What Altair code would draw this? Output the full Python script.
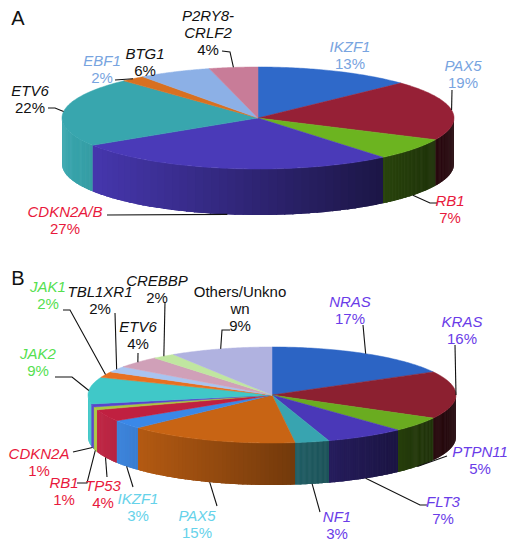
import altair as alt
import pandas as pd

# ---------------- data ----------------
a_names = ["IKZF1", "PAX5", "RB1", "CDKN2A/B", "ETV6", "EBF1", "BTG1", "P2RY8-CRLF2"]
a_line1 = ["", "", "", "", "", "", "", "P2RY8-"]
a_line2 = ["IKZF1", "PAX5", "RB1", "CDKN2A/B", "ETV6", "EBF1", "BTG1", "CRLF2"]
a_values = [13, 19, 7, 27, 22, 2, 6, 4]

b_names = ["NRAS", "KRAS", "PTPN11", "FLT3", "NF1", "PAX5", "IKZF1", "TP53", "RB1",
           "CDKN2A", "JAK2", "JAK1", "TBL1XR1", "ETV6", "CREBBP", "Others/Unknown"]
b_line1 = [""] * 15 + ["Others/Unkno"]
b_line2 = ["NRAS", "KRAS", "PTPN11", "FLT3", "NF1", "PAX5", "IKZF1", "TP53", "RB1",
           "CDKN2A", "JAK2", "JAK1", "TBL1XR1", "ETV6", "CREBBP", "wn"]
b_values = [17, 16, 5, 7, 3, 15, 3, 4, 1, 1, 9, 2, 2, 4, 2, 9]

# ---------------- styles ----------------
a_colors = ["#2f69c9", "#962036", "#6cb420", "#4a3ab8", "#38a6ae", "#d87020", "#8cb0e6", "#c87c98"]
b_colors = ["#2c64c4", "#8c2030", "#6aac20", "#4a38b8", "#38a4b0", "#c86414", "#3a88e8", "#c02040",
            "#a8c840", "#5a44cc", "#40c8c8", "#e87020", "#a8c4f0", "#d0a0b8", "#c0e6a0", "#b0b2e0"]
LB, RED, PUR, CYA, GRN, BLK = "#78a4e0", "#e8193c", "#6a3ce8", "#66d2ea", "#55e050", "#111111"
a_label_colors = [LB, LB, RED, RED, BLK, LB, BLK, BLK]
b_label_colors = [PUR, PUR, PUR, PUR, PUR, CYA, CYA, RED, RED, RED, GRN, GRN, BLK, BLK, BLK, BLK]
b_italic = [True] * 15 + [False]

# label layout: (text x, percent-line y, leader points after the slice anchor)
a_layout = [(350, 63, []), (463, 82, [(452, 90)]), (450, 217, [(430, 203), (437, 203)]),
            (65, 228, [(107, 215)]), (30, 107, [(55, 108), (48, 108)]), (102, 77, [(115, 80)]),
            (145, 70, []), (208, 49, [(230, 52), (222, 51)])]
b_layout = [(350, 318, [(363, 325)]), (462, 338, [(455, 345)]), (480, 468, [(447, 456)]),
            (443, 518, [(420, 505), (427, 505)]), (337, 533, [(320, 512)]),
            (197, 532, [(217, 506)]), (138, 515, [(133, 487)]), (103, 502, [(107, 477)]),
            (64, 499, [(87, 483), (77, 483)]), (39, 470, [(73, 452)]),
            (38, 370, [(72, 377), (55, 377)]), (48, 303, [(70, 310), (63, 310)]),
            (100, 308, [(115, 313)]), (138, 343, [(138, 353)]), (157, 297, [(165, 302)]),
            (240, 325, [(222, 330), (230, 330)])]

W, H = 504, 533
FONT = "Liberation Sans"
XS = alt.Scale(domain=[8, 8 + W], nice=False, zero=False)
YS = alt.Scale(domain=[8, 8 + H], nice=False, zero=False, reverse=True)


def make_df(names, line1, line2, values, colors, lcolors, italic, layout):
    rows = []
    for i, (n, l1, l2, v, c, lc, it, lay) in enumerate(
            zip(names, line1, line2, values, colors, lcolors, italic, layout)):
        tx, ty, pts = lay
        p1 = pts[0] if pts else (None, None)
        p2 = pts[1] if len(pts) > 1 else p1
        rows.append(dict(idx=i, name=n, l1=l1, l2=l2, value=v, color=c,
                         r=int(c[1:3], 16), g=int(c[3:5], 16), b=int(c[5:7], 16),
                         lcolor=lc, italic=it, tx=tx, ty=ty, lead=bool(pts),
                         ex1=p1[0], ey1=p1[1], ex2=p2[0], ey2=p2[1]))
    return pd.DataFrame(rows)


def xy(xf, yf):
    return dict(x=alt.X(xf, type="quantitative", scale=XS, axis=None),
                y=alt.Y(yf, type="quantitative", scale=YS, axis=None))


def pie(df, cx, cy, rx, ry, depth):
    N, M = 60, 40
    base = (alt.Chart(df)
            .transform_joinaggregate(total="sum(value)")
            .transform_window(cum="sum(value)", sort=[alt.SortField("idx")], frame=[None, 0])
            .transform_calculate(a0="2*PI*(datum.cum-datum.value)/datum.total")
            .transform_calculate(a1="2*PI*datum.cum/datum.total")
            .transform_calculate(am="PI*(2*datum.cum-datum.value)/datum.total"))

    wall = (base
            .transform_calculate(w0="max(datum.a0, PI/2)")
            .transform_calculate(w1="min(datum.a1, 3*PI/2)")
            .transform_filter("datum.w1 > datum.w0")
            .transform_calculate(seg=f"sequence(0, {M})")
            .transform_flatten(["seg"])
            .transform_calculate(corner="sequence(0, 4)")
            .transform_flatten(["corner"])
            .transform_calculate(ta=f"datum.w0 + (datum.w1-datum.w0)*datum.seg/{M}")
            .transform_calculate(tb=f"datum.w0 + (datum.w1-datum.w0)*(datum.seg+1.15)/{M}")
            .transform_calculate(t="(datum.corner == 0 || datum.corner == 3) ? datum.ta : min(datum.tb, datum.w1)")
            .transform_calculate(px=f"{cx} + {rx}*sin(datum.t)")
            .transform_calculate(py=f"{cy} - {ry}*cos(datum.t) + (datum.corner >= 2 ? {depth} : 0)")
            .transform_calculate(f="0.62 - 0.38*sin((datum.ta+datum.tb)/2)")
            .transform_calculate(shade="'rgb(' + round(datum.r*datum.f) + ',' + round(datum.g*datum.f) + ',' + round(datum.b*datum.f) + ')'")
            .transform_calculate(key="datum.name + '_' + datum.seg")
            .mark_line(interpolate="linear-closed", strokeWidth=0)
            .encode(**xy("px", "py"),
                    detail="key:N", order="corner:Q",
                    fill=alt.Fill("shade:N", scale=None)))

    top = (base
           .transform_calculate(k=f"sequence(-1, {N + 1})")
           .transform_flatten(["k"])
           .transform_calculate(t=f"datum.k < 0 ? 0 : datum.a0 + (datum.a1-datum.a0)*datum.k/{N}")
           .transform_calculate(px=f"datum.k < 0 ? {cx} : {cx} + {rx}*sin(datum.t)")
           .transform_calculate(py=f"datum.k < 0 ? {cy} : {cy} - {ry}*cos(datum.t)")
           .mark_line(interpolate="linear-closed", strokeWidth=0.5)
           .encode(**xy("px", "py"),
                   detail="name:N", order="k:Q",
                   fill=alt.Fill("color:N", scale=None),
                   stroke=alt.Stroke("color:N", scale=None)))

    leader = (base
              .transform_filter("datum.lead")
              .transform_calculate(step="sequence(0, 3)")
              .transform_flatten(["step"])
              .transform_calculate(ax=f"{cx} + {rx}*sin(datum.am)")
              .transform_calculate(ay=f"{cy} - {ry}*cos(datum.am) + (cos(datum.am) < 0 ? {depth} : 0)")
              .transform_calculate(lx="datum.step == 0 ? datum.ax : (datum.step == 1 ? datum.ex1 : datum.ex2)")
              .transform_calculate(ly="datum.step == 0 ? datum.ay : (datum.step == 1 ? datum.ey1 : datum.ey2)")
              .mark_line(color="#111111", strokeWidth=1.1)
              .encode(**xy("lx", "ly"), detail="name:N", order="step:Q"))

    txt = alt.Chart(df).transform_calculate(y1="datum.ty - 33", y2="datum.ty - 16",
                                            yp="datum.ty + 1", pct="datum.value + '%'")
    out = []
    for fld, yf in (("l1", "y1"), ("l2", "y2")):
        for flt, style in (("datum.italic", "italic"), ("!datum.italic", "normal")):
            out.append(txt.transform_filter(flt)
                       .mark_text(font=FONT, fontSize=15, fontStyle=style, baseline="middle")
                       .encode(**xy("tx", yf), text=f"{fld}:N",
                               color=alt.Color("lcolor:N", scale=None)))
    pcts = (txt.mark_text(font=FONT, fontSize=15, baseline="middle")
            .encode(**xy("tx", "yp"), text="pct:N", color=alt.Color("lcolor:N", scale=None)))
    return [wall, wall, top, leader] + out + [pcts]


df_a = make_df(a_names, a_line1, a_line2, a_values, a_colors, a_label_colors, [True] * 8, a_layout)
df_b = make_df(b_names, b_line1, b_line2, b_values, b_colors, b_label_colors, b_italic, b_layout)

panel_letters = pd.DataFrame({"letter": ["A", "B"], "x": [18, 18], "y": [19, 279]})
letters = (alt.Chart(panel_letters)
           .mark_text(font=FONT, fontSize=20, baseline="middle", color="#111111")
           .encode(**xy("x", "y"), text="letter:N"))

layers = pie(df_a, 258, 118, 196, 51, 46) + pie(df_b, 272, 395, 184, 48, 42) + [letters]

chart = (alt.layer(*layers)
         .properties(width=W, height=H, padding=0, autosize=alt.AutoSizeParams(type="none"))
         .configure_view(stroke=None))

chart.save("out.html", embed_options={"renderer": "svg", "actions": False})
